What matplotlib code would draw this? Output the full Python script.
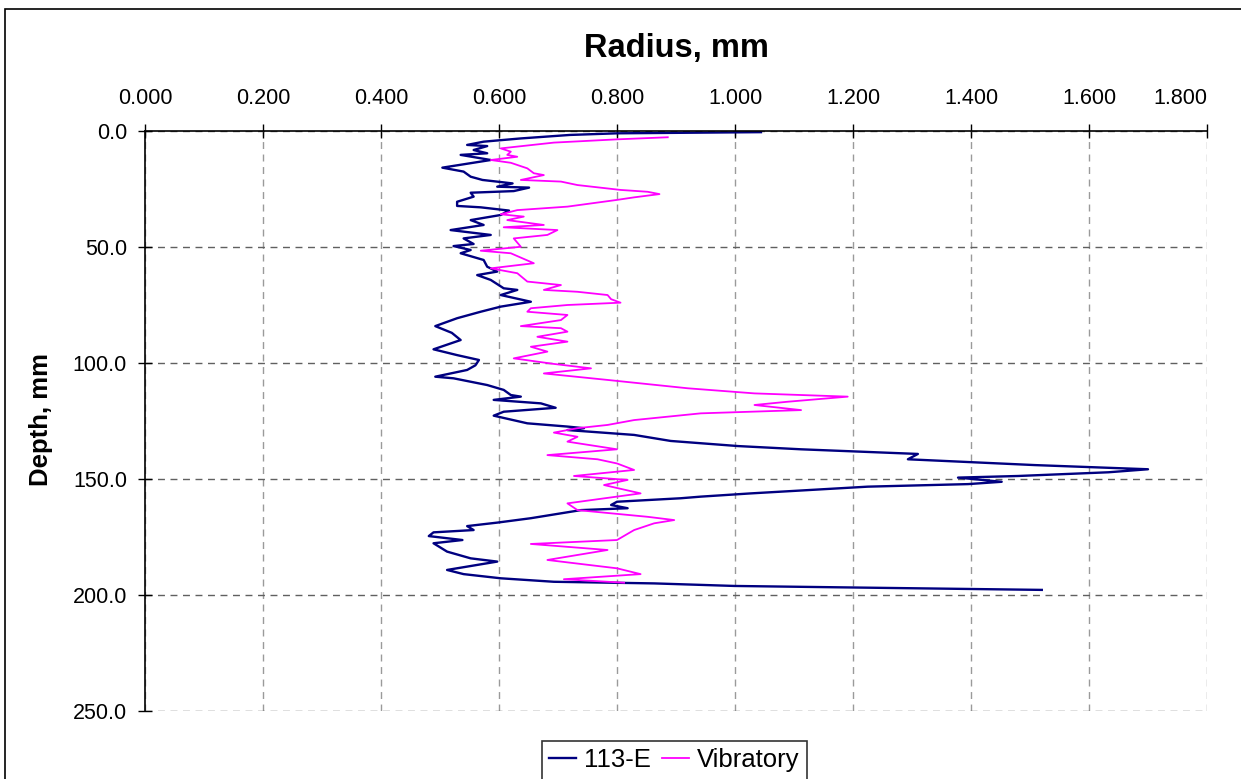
import matplotlib
matplotlib.use("Agg")
import matplotlib.pyplot as plt
from matplotlib.patches import Rectangle
from matplotlib.ticker import FormatStrFormatter, FixedLocator

plt.rcParams['font.family'] = ['Liberation Sans', 'DejaVu Sans']

# 113-E profile: depth (mm) and radius (mm)
e113_depth = [0.5, 1.0, 1.7, 3.2, 4.6, 6.0, 6.5, 8.2, 9.6, 10.3, 11.5, 12.5, 15.8, 17.5,
              19.7, 21.1, 22.0, 22.6, 24.0, 24.4, 25.9, 26.6, 28.3, 30.5, 32.3, 32.9,
              34.3, 36.2, 38.4, 40.5, 42.7, 44.8, 46.3, 48.7, 49.6, 51.3, 52.7, 55.6,
              58.5, 60.6, 62.1, 64.2, 67.8, 68.5, 70.7, 73.6, 75.7, 77.9, 80.7, 84.1,
              87.0, 90.1, 94.1, 96.6, 98.7, 101.0, 103.0, 105.9, 106.6, 109.5, 111.6,
              113.8, 114.5, 115.9, 117.4, 119.3, 121.0, 122.7, 126.0, 127.4, 128.1,
              128.9, 131.0, 133.6, 135.8, 137.2, 139.2, 141.5, 144.0, 145.8, 147.1,
              148.7, 149.4, 151.2, 152.2, 153.3, 156.2, 157.6, 158.3, 159.8, 161.2,
              162.6, 163.4, 166.9, 168.8, 170.3, 172.0, 173.0, 174.6, 176.3, 177.7,
              181.3, 184.2, 185.6, 189.2, 191.0, 192.8, 194.3, 195.0, 196.1, 196.7,
              197.8]
e113_radius = [1.044, 0.800, 0.720, 0.637, 0.574, 0.546, 0.580, 0.557, 0.580, 0.535,
               0.563, 0.586, 0.504, 0.540, 0.552, 0.572, 0.603, 0.623, 0.597, 0.651,
               0.625, 0.552, 0.557, 0.529, 0.529, 0.569, 0.617, 0.603, 0.552, 0.574,
               0.518, 0.586, 0.540, 0.557, 0.523, 0.552, 0.535, 0.574, 0.580, 0.597,
               0.563, 0.586, 0.608, 0.631, 0.603, 0.654, 0.603, 0.569, 0.529, 0.492,
               0.520, 0.535, 0.489, 0.529, 0.566, 0.560, 0.546, 0.492, 0.523, 0.580,
               0.608, 0.620, 0.637, 0.591, 0.671, 0.696, 0.608, 0.591, 0.648, 0.716,
               0.744, 0.716, 0.829, 0.891, 1.005, 1.112, 1.310, 1.293, 1.508, 1.700,
               1.633, 1.480, 1.378, 1.452, 1.395, 1.225, 1.027, 0.942, 0.908, 0.800,
               0.790, 0.818, 0.739, 0.654, 0.597, 0.546, 0.557, 0.489, 0.481, 0.538,
               0.489, 0.512, 0.552, 0.597, 0.512, 0.540, 0.603, 0.693, 0.863, 0.999,
               1.180, 1.520]

# Vibratory profile: depth (mm) and radius (mm)
vib_depth = [2.7, 3.6, 5.0, 7.5, 8.9, 10.3, 11.1, 12.5, 13.7, 16.1, 18.2, 19.0, 21.1,
             21.8, 23.3, 25.4, 26.2, 27.2, 28.6, 29.7, 32.6, 34.1, 35.9, 36.9, 38.4,
             40.5, 41.5, 42.7, 44.8, 46.3, 49.9, 51.6, 52.7, 57.0, 59.2, 61.3, 64.9,
             66.4, 68.5, 69.3, 70.7, 72.5, 74.0, 75.0, 76.4, 77.9, 79.3, 81.5, 84.1,
             85.0, 86.5, 88.7, 90.8, 93.0, 95.1, 98.0, 100.4, 102.3, 104.5, 107.3,
             110.9, 113.1, 114.5, 116.7, 118.1, 120.3, 121.7, 124.6, 126.7, 128.1,
             130.0, 131.8, 133.9, 137.2, 139.7, 141.5, 143.3, 146.1, 148.7, 150.4,
             152.6, 156.2, 160.5, 163.4, 166.3, 167.7, 169.1, 172.0, 176.3, 178.0,
             180.6, 184.9, 188.5, 191.0, 193.2, 194.7]
vib_radius = [0.886, 0.800, 0.693, 0.603, 0.620, 0.614, 0.631, 0.586, 0.620, 0.648,
              0.659, 0.676, 0.637, 0.705, 0.733, 0.806, 0.852, 0.872, 0.829, 0.800,
              0.716, 0.631, 0.603, 0.642, 0.614, 0.676, 0.608, 0.699, 0.682, 0.625,
              0.637, 0.569, 0.620, 0.659, 0.586, 0.631, 0.648, 0.705, 0.676, 0.733,
              0.784, 0.790, 0.806, 0.716, 0.654, 0.648, 0.716, 0.705, 0.637, 0.705,
              0.716, 0.665, 0.716, 0.654, 0.682, 0.625, 0.693, 0.756, 0.676, 0.784,
              0.920, 1.033, 1.191, 1.089, 1.033, 1.112, 0.942, 0.829, 0.784, 0.733,
              0.693, 0.733, 0.716, 0.800, 0.682, 0.767, 0.800, 0.829, 0.727, 0.818,
              0.778, 0.840, 0.716, 0.733, 0.852, 0.897, 0.863, 0.829, 0.800, 0.654,
              0.784, 0.682, 0.800, 0.840, 0.710, 0.812]

# axis ticks
radius_ticks = [0.0, 0.2, 0.4, 0.6, 0.8, 1.0, 1.2, 1.4, 1.6, 1.8]
depth_ticks = [0.0, 50.0, 100.0, 150.0, 200.0, 250.0]

W, H = 1241, 779
fig = plt.figure(figsize=(W / 100, H / 100), dpi=100)
fig.patch.set_facecolor('white')

# chart frame
fig.patches.append(Rectangle((5 / W, -0.05), 1.2, 1 - 9 / H + 0.05,
                             transform=fig.transFigure, fill=False,
                             edgecolor='black', linewidth=1.2))

ax = fig.add_axes([145 / W, 1 - 711 / H, (1207 - 145) / W, (711 - 131) / H])

ax.plot(e113_radius, e113_depth, color='#000080', linewidth=1.7, label='113-E')
ax.plot(vib_radius, vib_depth, color='#FF00FF', linewidth=1.3, label='Vibratory')

ax.set_xlim(radius_ticks[0], radius_ticks[-1])
ax.set_ylim(depth_ticks[-1], depth_ticks[0])
ax.xaxis.set_major_locator(FixedLocator(radius_ticks))
ax.yaxis.set_major_locator(FixedLocator(depth_ticks))
ax.xaxis.set_major_formatter(FormatStrFormatter('%.3f'))
ax.yaxis.set_major_formatter(FormatStrFormatter('%.1f'))
ax.xaxis.tick_top()

ax.tick_params(axis='x', direction='inout', length=10, width=1, labelsize=15.5,
               pad=11, colors='black')
ax.tick_params(axis='y', direction='inout', length=10, width=1, labelsize=15.5,
               pad=8, colors='black')

ax.grid(True, axis='x', linestyle=(0, (5, 4)), color='#9a9a9a', linewidth=1)
ax.grid(True, axis='y', linestyle=(0, (5, 4)), color='#606060', linewidth=1)
ax.set_axisbelow(True)

for side in ('right', 'bottom'):
    ax.spines[side].set_visible(False)
ax.spines['top'].set_linewidth(1.2)
ax.spines['left'].set_linewidth(1.2)

fig.text(676 / W, 1 - 48 / H, 'Radius, mm', fontsize=23.5, fontweight='bold',
         ha='center', va='center')
fig.text(41 / W, 1 - 420 / H, 'Depth, mm', fontsize=18.5, fontweight='bold',
         rotation=90, ha='center', va='center')

leg = fig.legend(loc='upper center', bbox_to_anchor=(674.5 / W, 1 - 740.5 / H),
                 ncol=2, fontsize=18.5, frameon=True, fancybox=False,
                 edgecolor='black', borderpad=0.3, handlelength=1.05,
                 handletextpad=0.3, columnspacing=0.45, borderaxespad=0)
leg.get_frame().set_linewidth(1.2)

# keep the last x label inside the frame
ticks = ax.xaxis.get_major_ticks()
ticks[len(radius_ticks) - 1].label2.set_horizontalalignment('right')

fig.savefig('out.png', dpi=100)
